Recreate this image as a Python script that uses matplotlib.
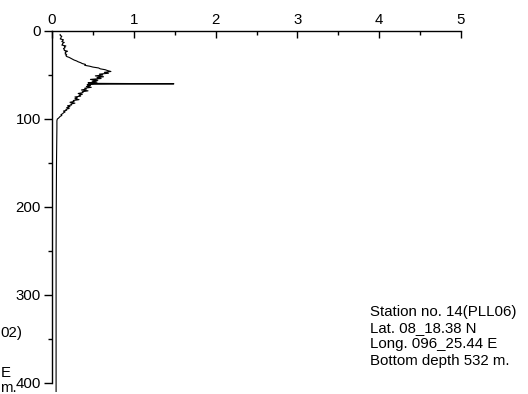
import matplotlib
matplotlib.use("Agg")
import matplotlib.pyplot as plt
from matplotlib.ticker import MultipleLocator

plt.rcParams["font.family"] = ["Liberation Sans", "DejaVu Sans"]

# profile: depth (m) and measured value
depth = [4, 5, 6, 7, 8, 9, 10, 11, 12, 13, 14, 15, 16, 17, 18, 19, 20,
         21, 22, 23, 24, 25, 26, 27, 28, 29, 30, 31, 32, 33, 34, 35, 36,
         37, 38, 39, 40, 41, 42, 43, 44, 45, 46, 47, 48, 49, 50, 51, 52,
         53, 54, 55, 56, 57, 58, 59, 59.5, 60, 60.5, 61, 62, 63, 64, 65,
         66, 67, 68, 69, 70, 71, 72, 73, 74, 75, 76, 77, 78, 79, 80, 81,
         82, 83, 84, 85, 86, 87, 88, 89, 90, 91, 92, 93, 94, 95, 96, 97,
         98, 99, 100, 102, 110, 150, 200, 250, 300, 350, 410]
value = [0.10, 0.10, 0.12, 0.11, 0.11, 0.10, 0.14, 0.13, 0.12, 0.15, 0.13,
         0.13, 0.12, 0.17, 0.15, 0.16, 0.14, 0.15, 0.15, 0.19, 0.16, 0.17,
         0.16, 0.18, 0.17, 0.18, 0.21, 0.23, 0.25, 0.27, 0.30, 0.32, 0.35,
         0.37, 0.41, 0.40, 0.46, 0.50, 0.57, 0.59, 0.65, 0.68, 0.72, 0.64,
         0.69, 0.58, 0.62, 0.53, 0.63, 0.55, 0.60, 0.47, 0.56, 0.49, 0.55,
         0.44, 0.52, 1.49, 0.52, 0.43, 0.47, 0.42, 0.48, 0.40, 0.42, 0.36,
         0.44, 0.37, 0.38, 0.32, 0.37, 0.33, 0.35, 0.28, 0.31, 0.28, 0.33,
         0.26, 0.27, 0.22, 0.28, 0.23, 0.24, 0.19, 0.22, 0.18, 0.21, 0.17,
         0.18, 0.14, 0.16, 0.14, 0.13, 0.11, 0.12, 0.10, 0.09, 0.08, 0.065,
         0.06, 0.06, 0.055, 0.052, 0.05, 0.05, 0.05, 0.05]

x_ticks = [0, 1, 2, 3, 4, 5]
y_ticks = [0, 100, 200, 300, 400]

station_text = "Station no. 14(PLL06)\nLat. 08_18.38 N\nLong. 096_25.44 E\nBottom depth 532 m."

fig = plt.figure(figsize=(5.28, 3.94), dpi=100)
ax = fig.add_axes([52 / 528, 1 - 391.8 / 394, (461 - 52) / 528, (391.8 - 31) / 394])

ax.plot(value, depth, color="black", lw=0.8)

ax.set_xlim(0, 5)
ax.set_ylim(410, 0)
ax.set_xticks(x_ticks)
ax.set_yticks(y_ticks)
ax.xaxis.set_minor_locator(MultipleLocator(0.5))
ax.yaxis.set_minor_locator(MultipleLocator(50))
ax.xaxis.tick_top()
ax.spines["right"].set_visible(False)
ax.spines["bottom"].set_visible(False)
ax.spines["left"].set_bounds(0, 400)
for s in ("left", "top"):
    ax.spines[s].set_linewidth(1.0)
ax.tick_params(axis="x", which="major", direction="in", length=5, width=1.0,
               labelsize=10.8, pad=3)
ax.tick_params(axis="x", which="minor", direction="in", length=3, width=1.0)
ax.tick_params(axis="y", which="major", direction="out", length=6, width=1.0,
               labelsize=10.8, pad=2)
ax.tick_params(axis="y", which="minor", direction="out", length=3, width=1.0)
ax.patch.set_visible(False)

fig.text(370 / 528, 1 - 305 / 394, station_text, fontsize=10.8, va="top",
         ha="left", linespacing=1.2)

# visible ends of the neighbouring panel's labels
fig.text(22 / 528, 1 - 333 / 394, "02)", fontsize=10.8, ha="right", va="center")
fig.text(1 / 528, 1 - 373 / 394, "E", fontsize=10.8, ha="left", va="center")
fig.text(17 / 528, 1 - 388 / 394, "m.", fontsize=10.8, ha="right", va="center")

fig.savefig("out.png", dpi=100)
